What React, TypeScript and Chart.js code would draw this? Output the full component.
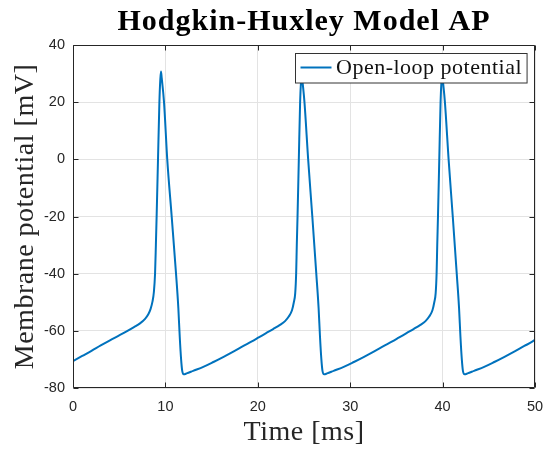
import React, { useEffect, useRef } from 'react';
import { Chart, registerables } from 'chart.js';

Chart.register(...registerables);

// ---- data ----
const timeMs = [
  0, 1, 2, 3, 4, 5, 5.8, 6.6, 7.25, 7.8, 8.15, 8.4, 8.6, 8.75, 8.88, 8.97, 9.05, 9.2, 9.35, 9.45, 9.52, 9.6,
  9.85, 10.2, 10.68, 11.15, 11.4, 11.55, 11.7, 11.82, 11.98, 12.3, 13.0, 14.1, 15.2, 16.3, 17.4, 18.45, 19.3,
  20.1, 20.9, 21.7, 22.4, 22.95, 23.35, 23.7, 23.9, 24.05, 24.15, 24.22, 24.3, 24.44, 24.58, 24.68, 24.75, 24.83,
  25.05, 25.45, 25.9, 26.33, 26.58, 26.73, 26.88, 27.0, 27.18, 27.5, 28.2, 29.3, 30.4, 31.5, 32.6, 33.65, 34.5,
  35.3, 36.1, 36.9, 37.6, 38.15, 38.55, 38.9, 39.1, 39.25, 39.35, 39.42, 39.5, 39.64, 39.78, 39.88, 39.95, 40.03,
  40.25, 40.65, 41.1, 41.53, 41.78, 41.93, 42.08, 42.2, 42.38, 42.7, 43.4, 44.5, 45.6, 46.7, 47.8, 48.85, 49.7, 50,
];
const voltageMv = [
  -70.6, -68.8, -67.0, -65.1, -63.3, -61.6, -60.2, -58.7, -57.4, -55.8, -54.2, -52.3, -49.8, -46.5, -40, -30, -20, 0, 20, 28, 30.7, 28.5,
  20, 0, -20, -40, -52, -62, -70, -74, -75.2, -74.9, -74.0, -72.6, -70.9, -69.1, -67.2, -65.3, -63.8,
  -62.3, -60.8, -59.3, -57.9, -56.6, -55.0, -52.8, -50, -46.8, -40, -30, -20, 0, 20, 27.5, 30, 27.5,
  20, 0, -20, -40, -52, -62, -70, -74, -75.2, -74.9, -74.0, -72.6, -70.9, -69.1, -67.2, -65.3, -63.8,
  -62.3, -60.8, -59.3, -57.9, -56.6, -55.0, -52.8, -50, -46.8, -40, -30, -20, 0, 20, 27.5, 30, 27.5,
  20, 0, -20, -40, -52, -62, -70, -74, -75.2, -74.9, -74.0, -72.6, -70.9, -69.1, -67.2, -65.3, -63.8, -63.1,
];
const xTicks = [0, 10, 20, 30, 40, 50];
const yTicks = [-80, -60, -40, -20, 0, 20, 40];
const titleText = 'Hodgkin-Huxley Model AP';
const xLabel = 'Time [ms]';
const yLabel = 'Membrane potential [mV]';
const seriesLabel = 'Open-loop potential';

// ---- styles ----
const AXIS = '#262626';
const GRID = '#e3e3e3';
const LINE = '#0072BD';
const SERIF = '"Liberation Serif", "Times New Roman", serif';
const SANS = '"Liberation Sans", Arial, sans-serif';

const decorPlugin = {
  id: 'decor',
  afterDatasetsDraw(chart: any) {
    const { ctx, chartArea: a, scales } = chart;
    const xs = scales.x;
    const ys = scales.y;
    ctx.save();

    // axes box
    const L = Math.round(a.left) + 0.5;
    const R = Math.round(a.right) - 0.5;
    const T = Math.round(a.top) + 0.5;
    const B = Math.round(a.bottom) - 0.5;
    ctx.strokeStyle = AXIS;
    ctx.lineWidth = 1;
    ctx.beginPath();
    ctx.rect(L, T, R - L, B - T);
    ctx.stroke();

    // inward ticks
    const tl = 5;
    ctx.beginPath();
    xTicks.forEach((v) => {
      const px = Math.round(xs.getPixelForValue(v)) + 0.5;
      ctx.moveTo(px, B);
      ctx.lineTo(px, B - tl);
      ctx.moveTo(px, T);
      ctx.lineTo(px, T + tl);
    });
    yTicks.forEach((v) => {
      const py = Math.round(ys.getPixelForValue(v)) + 0.5;
      ctx.moveTo(L, py);
      ctx.lineTo(L + tl, py);
      ctx.moveTo(R, py);
      ctx.lineTo(R - tl, py);
    });
    ctx.stroke();

    // legend
    ctx.font = `22px ${SERIF}`;
    (ctx as any).letterSpacing = '0.5px';
    const tw = ctx.measureText(seriesLabel).width;
    const boxW = 5 + 31 + 4.5 + tw + 5;
    const boxH = 29.5;
    const bx = Math.round(a.right - 8.5 - boxW) + 0.5;
    const by = Math.round(a.top + 8) + 0.5;
    ctx.fillStyle = '#ffffff';
    ctx.fillRect(bx, by, boxW, boxH);
    ctx.strokeStyle = '#333333';
    ctx.lineWidth = 1;
    ctx.strokeRect(bx, by, boxW, boxH);
    ctx.strokeStyle = LINE;
    ctx.lineWidth = 2;
    ctx.beginPath();
    ctx.moveTo(bx + 5, by + 14);
    ctx.lineTo(bx + 36, by + 14);
    ctx.stroke();
    ctx.fillStyle = '#111111';
    ctx.textAlign = 'left';
    ctx.textBaseline = 'alphabetic';
    ctx.fillText(seriesLabel, bx + 40.5, by + 20.7);

    // title
    const cx = (a.left + a.right) / 2;
    ctx.font = `bold 30px ${SERIF}`;
    (ctx as any).letterSpacing = '1px';
    ctx.textAlign = 'center';
    ctx.fillStyle = '#000000';
    ctx.fillText(titleText, cx, 30);

    // axis labels
    ctx.font = `28px ${SERIF}`;
    (ctx as any).letterSpacing = '0.5px';
    ctx.fillStyle = '#262626';
    ctx.fillText(xLabel, cx, 440);

    ctx.save();
    ctx.translate(33, (a.top + a.bottom) / 2);
    ctx.rotate(-Math.PI / 2);
    ctx.fillText(yLabel, 0, 0);
    ctx.restore();

    ctx.restore();
  },
};

export default function App() {
  const canvasRef = useRef<HTMLCanvasElement | null>(null);

  useEffect(() => {
    document.body.style.margin = '0';
    const canvas = canvasRef.current;
    if (!canvas) return;
    const points = timeMs.map((t, i) => ({ x: t, y: voltageMv[i] }));
    const chart = new Chart(canvas, {
      type: 'line',
      data: {
        datasets: [
          {
            label: seriesLabel,
            data: points,
            borderColor: LINE,
            backgroundColor: LINE,
            borderWidth: 2,
            pointRadius: 0,
            cubicInterpolationMode: 'monotone',
            fill: false,
          },
        ],
      },
      options: {
        animation: false,
        responsive: true,
        maintainAspectRatio: false,
        parsing: false as any,
        layout: { padding: { left: 0, right: 13, top: 45, bottom: 0 } },
        plugins: {
          legend: { display: false },
          title: { display: false },
          tooltip: { enabled: false },
        },
        scales: {
          x: {
            type: 'linear',
            min: 0,
            max: 50,
            afterBuildTicks: (s: any) => {
              s.ticks = xTicks.map((v) => ({ value: v }));
            },
            afterFit: (s: any) => {
              s.height = 61;
              s.paddingLeft = 0;
              s.paddingRight = 0;
            },
            grid: { color: GRID, lineWidth: 1, drawTicks: false },
            border: { display: false },
            ticks: {
              color: AXIS,
              font: { family: SANS, size: 14.5 },
              padding: 10,
              maxRotation: 0,
              autoSkip: false,
              callback: (v: any) => String(v),
            },
          },
          y: {
            type: 'linear',
            min: -80,
            max: 40,
            afterBuildTicks: (s: any) => {
              s.ticks = yTicks.map((v) => ({ value: v }));
            },
            afterFit: (s: any) => {
              s.width = 73;
              s.paddingTop = 0;
              s.paddingBottom = 0;
            },
            grid: { color: GRID, lineWidth: 1, drawTicks: false },
            border: { display: false },
            ticks: {
              color: AXIS,
              font: { family: SANS, size: 14.5 },
              padding: 8,
              autoSkip: false,
              callback: (v: any) => String(v),
            },
          },
        },
      },
      plugins: [decorPlugin],
    });
    return () => chart.destroy();
  }, []);

  return (
    <div style={{ width: 548, height: 449, position: 'relative' }}>
      <canvas ref={canvasRef} />
    </div>
  );
}
